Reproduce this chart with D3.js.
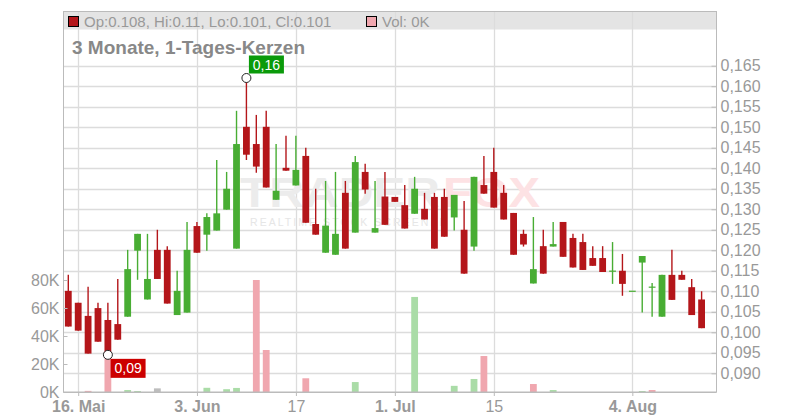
<!DOCTYPE html>
<html><head><meta charset="utf-8">
<script src="https://cdn.jsdelivr.net/npm/d3@7"></script>
<style>
body{margin:0;background:#fff}
svg{display:block;font-family:"Liberation Sans",Arial,sans-serif}
</style>
</head><body>
<svg id="chart" width="800" height="420"></svg>
<script>
const dates = [
"2025-05-15","2025-05-16","2025-05-19","2025-05-20","2025-05-21","2025-05-22","2025-05-23","2025-05-26","2025-05-27","2025-05-28","2025-05-29","2025-05-30",
"2025-06-02","2025-06-03","2025-06-04","2025-06-05","2025-06-06","2025-06-09","2025-06-10","2025-06-11","2025-06-12","2025-06-13","2025-06-16","2025-06-17","2025-06-18","2025-06-19","2025-06-20","2025-06-23","2025-06-24","2025-06-25","2025-06-26","2025-06-27","2025-06-30",
"2025-07-01","2025-07-02","2025-07-03","2025-07-04","2025-07-07","2025-07-08","2025-07-09","2025-07-10","2025-07-11","2025-07-14","2025-07-15","2025-07-16","2025-07-17","2025-07-18","2025-07-21","2025-07-22","2025-07-23","2025-07-24","2025-07-25","2025-07-28","2025-07-29","2025-07-30","2025-07-31",
"2025-08-01","2025-08-04","2025-08-05","2025-08-06","2025-08-07","2025-08-08","2025-08-11","2025-08-12","2025-08-13"];

const open = [0.1101,0.1072,0.1040,0.1059,0.1030,0.1020,0.1038,0.1199,0.1080,0.1201,0.1201,0.1042,0.1048,0.1259,0.1238,0.1248,0.1299,0.1204,0.1501,0.1459,0.1501,0.1323,0.1401,0.1358,0.1430,0.1264,0.1194,0.1189,0.1340,0.1243,0.1391,0.1243,0.1331,0.1330,0.1310,0.1289,0.1301,0.1330,0.1330,0.1280,0.1250,0.1209,0.1359,0.1391,0.1340,0.1291,0.1240,0.1119,0.1210,0.1209,0.1269,0.1230,0.1220,0.1181,0.1181,0.1149,0.1150,0.1100,0.1170,0.1110,0.1038,0.1140,0.1140,0.1110,0.108];
const high = [0.1140,0.1072,0.1111,0.1072,0.1072,0.1130,0.1201,0.1240,0.1240,0.1250,0.1210,0.1150,0.1269,0.1269,0.1290,0.1420,0.1391,0.1540,0.1620,0.1530,0.1540,0.1459,0.1479,0.1479,0.1450,0.1350,0.1369,0.1391,0.1369,0.1430,0.1411,0.1369,0.1391,0.1330,0.1359,0.1379,0.1340,0.1340,0.1350,0.1335,0.1320,0.1379,0.1430,0.1450,0.1359,0.1291,0.1250,0.1281,0.1250,0.1269,0.1269,0.1240,0.1240,0.1210,0.1210,0.1220,0.1191,0.1100,0.1186,0.1120,0.1140,0.1201,0.1150,0.1130,0.11];
const low = [0.1014,0.1004,0.0948,0.0977,0.0945,0.0982,0.1038,0.1128,0.1080,0.1130,0.1070,0.1042,0.1048,0.1194,0.1199,0.1248,0.1299,0.1204,0.1420,0.1389,0.1353,0.1323,0.1394,0.1358,0.1267,0.1238,0.1194,0.1189,0.1204,0.1243,0.1338,0.1243,0.1262,0.1318,0.1253,0.1289,0.1275,0.1204,0.1233,0.1248,0.1143,0.1199,0.1338,0.1304,0.1275,0.1189,0.1209,0.1119,0.1143,0.1209,0.1184,0.1158,0.1152,0.1162,0.1147,0.1118,0.1089,0.1100,0.1048,0.1038,0.1038,0.1079,0.1128,0.1042,0.101];
const close = [0.1014,0.1004,0.0948,0.0977,0.0945,0.0982,0.1154,0.1240,0.1130,0.1130,0.1070,0.1101,0.1201,0.1194,0.1281,0.1290,0.1350,0.1459,0.1433,0.1404,0.1353,0.1345,0.1394,0.1396,0.1267,0.1238,0.1260,0.1240,0.1204,0.1415,0.1348,0.1254,0.1262,0.1318,0.1253,0.1350,0.1275,0.1204,0.1233,0.1335,0.1143,0.1379,0.1338,0.1304,0.1275,0.1189,0.1214,0.1154,0.1143,0.1215,0.1184,0.1158,0.1152,0.1162,0.1147,0.1149,0.1118,0.1100,0.1186,0.1110,0.1140,0.1079,0.1128,0.1042,0.101];
const volume = [0,0,800,0,24000,0,1400,700,0,2600,0,0,0,0,3000,0,2000,2900,0,80000,30000,0,0,0,9800,0,0,0,0,7100,0,0,0,0,0,67900,0,0,0,4400,0,9300,25700,0,0,0,0,5700,0,1400,0,0,0,0,0,0,0,0,700,1400,0,0,0,0,0];

const priceTicks = [0.090,0.095,0.100,0.105,0.110,0.115,0.120,0.125,0.130,0.135,0.140,0.145,0.150,0.155,0.160,0.165];
const volumeTicks = [0,20000,40000,60000,80000];
const dateTicks = ["2025-05-16","2025-06-03","2025-06-17","2025-07-01","2025-07-15","2025-08-04"];
const dateTickLabels = ["16. Mai","3. Jun","17","1. Jul","15","4. Aug"];
const dateTickBold = [true,true,false,true,false,true];

const title = "3 Monate, 1-Tages-Kerzen";

const C = {red:"#b4161a", green:"#48ad33", vRed:"#f0a7af", vGreen:"#aadca7", vGrey:"#bdbdbd",
  grid:"#dcdcdc", axis:"#bbbbbb", text:"#999999", band:"#e4e4e4"};

const L = 63.5, R = 716.5, T = 11.5, B = 392;
const svg = d3.select("#chart");

const x = d3.scalePoint().domain(dates).range([68.3, 701.6]);
const y = d3.scaleLinear().domain([0.09, 0.165]).range([373.3, 65.7]);
const yv = d3.scaleLinear().domain([0, 80000]).range([392, 280]);

const data = dates.map((d,i)=>({d, o:open[i], h:high[i], l:low[i], c:close[i], v:volume[i],
  pc: i>0 ? close[i-1] : close[i]}));

// legend band
svg.append("rect").attr("x",L).attr("y",T).attr("width",R-L).attr("height",18).attr("fill",C.band);

// grid
svg.append("g").selectAll("line").data(priceTicks).join("line")
  .attr("x1",L).attr("x2",R).attr("y1",d=>Math.round(y(d))+0.5).attr("y2",d=>Math.round(y(d))+0.5)
  .attr("stroke",C.grid).attr("stroke-width",1.3);
svg.append("g").selectAll("line").data(dateTicks).join("line")
  .attr("x1",d=>Math.round(x(d))+0.5).attr("x2",d=>Math.round(x(d))+0.5).attr("y1",T).attr("y2",B)
  .attr("stroke",C.grid).attr("stroke-width",1.3);

// watermark
const wm = svg.append("g").attr("font-weight","bold");
wm.append("text").attr("x",240).attr("y",207).attr("font-size",42).attr("fill","#ececec")
  .attr("textLength",200).attr("lengthAdjust","spacingAndGlyphs").text("TRADER");
wm.append("text").attr("x",443).attr("y",207).attr("font-size",42).attr("fill","#fde2e4")
  .attr("textLength",97).attr("lengthAdjust","spacingAndGlyphs").text("FOX");
wm.append("text").attr("x",250).attr("y",226).attr("font-size",10.5).attr("font-weight","normal").attr("fill","#e6e6e6")
  .attr("textLength",197).attr("lengthAdjust","spacing").text("REALTIME STOCK SCREENER");

// volume bars
svg.append("g").selectAll("rect").data(data.filter(d=>d.v>0)).join("rect")
  .attr("x",d=>x(d.d)-3.4).attr("width",6.8)
  .attr("y",d=>yv(d.v)).attr("height",d=>yv(0)-yv(d.v))
  .attr("fill",d=> d.c>d.pc ? C.vGreen : d.c<d.pc ? C.vRed : C.vGrey);

// candles
const cg = svg.append("g").selectAll("g").data(data).join("g");
cg.append("line")
  .attr("x1",d=>x(d.d)).attr("x2",d=>x(d.d))
  .attr("y1",d=>y(d.h)).attr("y2",d=>y(d.l))
  .attr("stroke",d=>d.c>=d.o?C.green:C.red).attr("stroke-width",1.4);
cg.append("rect")
  .attr("x",d=>x(d.d)-3.4).attr("width",6.8)
  .attr("y",d=>y(Math.max(d.o,d.c))-(d.o===d.c?0.6:0))
  .attr("height",d=>Math.max(1.2, Math.abs(y(d.o)-y(d.c))))
  .attr("fill",d=>d.c>=d.o?C.green:C.red);

// frame
svg.append("rect").attr("x",L).attr("y",T).attr("width",R-L).attr("height",B-T)
  .attr("fill","none").attr("stroke",C.axis);

// axes
const styleAxis = g => {
  g.select(".domain").remove();
  g.selectAll(".tick line").attr("stroke",C.axis);
  g.selectAll(".tick text").attr("fill",C.text).attr("font-size",16)
    .attr("font-family","'Liberation Sans',Arial,sans-serif");
};
svg.append("g").attr("transform",`translate(${R},0)`)
  .call(d3.axisRight(y).tickValues(priceTicks).tickSizeInner(-5).tickSizeOuter(0).tickPadding(4)
    .tickFormat(d=>d3.format(".3f")(d).replace(".",",")))
  .call(styleAxis);
svg.append("g").attr("transform",`translate(${L},0)`)
  .call(d3.axisLeft(yv).tickValues(volumeTicks).tickSizeInner(-4).tickSizeOuter(0).tickPadding(4)
    .tickFormat(d=>(d/1000)+"K"))
  .call(styleAxis);
const xa = svg.append("g").attr("transform",`translate(0,${B})`)
  .call(d3.axisBottom(x).tickValues(dateTicks).tickSizeInner(4).tickSizeOuter(0).tickPadding(5)
    .tickFormat((d,i)=>dateTickLabels[i]))
  .call(styleAxis);
xa.selectAll(".tick text").attr("font-weight",(d,i)=>dateTickBold[i]?"bold":"normal");
svg.append("line").attr("x1",L).attr("x2",R).attr("y1",B+0.5).attr("y2",B+0.5).attr("stroke",C.axis);

// title
svg.append("text").attr("x",72).attr("y",54).attr("font-size",19).attr("font-weight","bold")
  .attr("fill","#888").text(title);

// legend
const last = data[data.length-1];
svg.append("rect").attr("x",68.5).attr("y",16.5).attr("width",10).attr("height",10)
  .attr("fill",C.red).attr("stroke","#000");
svg.append("text").attr("x",84).attr("y",26.5).attr("font-size",15).attr("fill",C.text)
  .text(`Op:${last.o}, Hi:${last.h}, Lo:${last.l}, Cl:${last.c}`);
svg.append("rect").attr("x",366.5).attr("y",16.5).attr("width",10).attr("height",10)
  .attr("fill",C.vRed).attr("stroke","#000");
svg.append("text").attr("x",382).attr("y",26.5).attr("font-size",15).attr("fill",C.text)
  .text(`Vol: ${last.v/1000}K`);

// high / low markers
const hiIdx = d3.maxIndex(high), loIdx = d3.minIndex(low);
const fmt2 = v => d3.format(".2f")(v).replace(".",",");
const hx = x(dates[hiIdx]), hy = y(high[hiIdx]);
const lx = x(dates[loIdx]), ly = y(low[loIdx]);
[[hx,hy],[lx,ly]].forEach(([cx,cy])=>{
  svg.append("circle").attr("cx",cx).attr("cy",cy).attr("r",4.5)
    .attr("fill","#fff").attr("stroke","#222").attr("stroke-width",1);
});
svg.append("rect").attr("x",hx+2.5).attr("y",hy-22.5).attr("width",35).attr("height",18).attr("fill","#0a9a0a");
svg.append("text").attr("x",hx+20).attr("y",hy-8.5).attr("text-anchor","middle").attr("font-size",14)
  .attr("fill","#fff").text(fmt2(high[hiIdx]));
svg.append("rect").attr("x",lx+2.7).attr("y",ly+4).attr("width",35).attr("height",19).attr("fill","#cc0000");
svg.append("text").attr("x",lx+20.2).attr("y",ly+18.5).attr("text-anchor","middle").attr("font-size",14)
  .attr("fill","#fff").text(fmt2(low[loIdx]));
</script>
</body></html>
